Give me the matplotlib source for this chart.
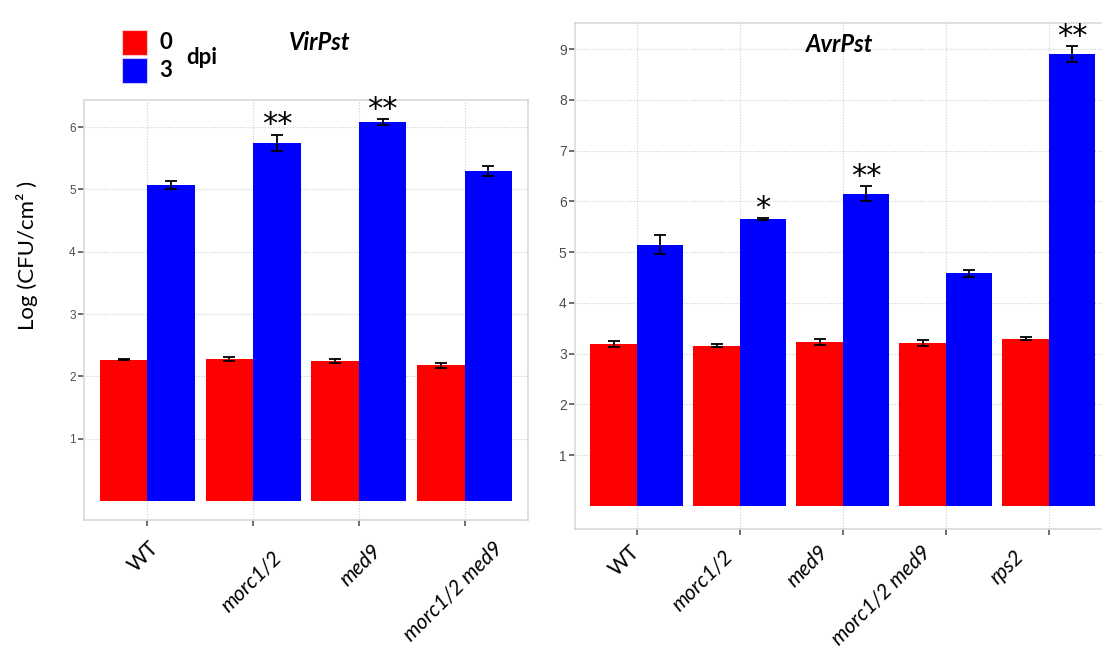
import matplotlib
matplotlib.use("Agg")
import matplotlib.pyplot as plt
from matplotlib.patches import Rectangle
import numpy as np

# VirPst panel
vir_strains = ["WT", "morc1/2", "med9", "morc1/2 med9"]
vir_d0 = [2.27, 2.28, 2.25, 2.18]
vir_d0_err = [0.01, 0.03, 0.03, 0.04]
vir_d3 = [5.07, 5.75, 6.08, 5.30]
vir_d3_err = [0.06, 0.13, 0.05, 0.08]
vir_stars = ["", "**", "**", ""]

# AvrPst panel
avr_strains = ["WT", "morc1/2", "med9", "morc1/2 med9", "rps2"]
avr_d0 = [3.19, 3.16, 3.23, 3.21, 3.29]
avr_d0_err = [0.05, 0.03, 0.05, 0.06, 0.03]
avr_d3 = [5.15, 5.65, 6.15, 4.58, 8.90]
avr_d3_err = [0.18, 0.02, 0.15, 0.07, 0.16]
avr_stars = ["", "*", "**", "", "**"]

RED = "#ff0000"
BLUE = "#0000ff"
W = 0.45
PX = 0.72  # points per pixel at dpi 100

# the strain labels were placed by hand in the original, offsets in px (right, down)
vir_lab_off = [(8, 24.5), (25.5, 34.5), (19, 27.5), (34.5, 24.5)]
avr_lab_off = [(0, 19.5), (-10, 24.5), (-18, 19.5), (-18, 19.5), (-28.5, 24.5)]

fig = plt.figure(figsize=(11.02, 6.55), dpi=100)


def panel(rect, strains, d0, e0, d3, e3, stars, ymax_ticks, tick_size, lab_off):
    ax = fig.add_axes(rect)
    x = np.arange(len(strains))
    ax.bar(x - W / 2, d0, W, color=RED, zorder=2)
    ax.bar(x + W / 2, d3, W, color=BLUE, zorder=2)
    ax.errorbar(x - W / 2, d0, yerr=e0, fmt="none", ecolor="black",
                elinewidth=1.3, capsize=4.5, capthick=1.3, zorder=3)
    ax.errorbar(x + W / 2, d3, yerr=e3, fmt="none", ecolor="black",
                elinewidth=1.3, capsize=4.5, capthick=1.3, zorder=3)
    for xi, v, e, s in zip(x, d3, e3, stars):
        if s:
            ax.annotate(s, (xi + W / 2, v + e), xytext=(0, 1),
                        textcoords="offset points", ha="center", va="baseline",
                        fontsize=22, family="DejaVu Sans",
                        annotation_clip=False)
    top = max(np.array(d3) + np.array(e3))
    ax.set_xlim(-0.6, len(strains) - 0.4)
    ax.set_ylim(-0.05 * top, 1.05 * top)
    ax.set_yticks(range(1, ymax_ticks + 1))
    ax.set_xticks(x)
    ax.set_xticklabels([""] * len(strains))
    for xi, name, (dx, dy) in zip(x, strains, lab_off):
        ax.annotate(name, (xi, 0), xycoords=("data", "axes fraction"),
                    xytext=(dx * PX, -dy * PX), textcoords="offset points",
                    rotation=45, rotation_mode="anchor", ha="right", va="center",
                    fontsize=15, family="Lato",
                    style="normal" if name == "WT" else "italic",
                    annotation_clip=False)
    for lab in ax.get_yticklabels():
        lab.set_family("Liberation Sans")
        lab.set_fontsize(tick_size)
        lab.set_color("#4d4d4d")
    ax.tick_params(axis="both", length=4, width=1.2, color="#555555")
    ax.tick_params(axis="y", pad=2)
    ax.grid(True, color="#d0d0d0", linestyle=(0, (1, 1.5)), linewidth=0.8, zorder=0)
    ax.set_axisbelow(True)
    for sp in ax.spines.values():
        sp.set_color("#d9d9d9")
        sp.set_linewidth(1.2)
    return ax


panel([84 / 1102, 1 - 520 / 655, 444 / 1102, 420 / 655],
      vir_strains, vir_d0, vir_d0_err, vir_d3, vir_d3_err, vir_stars, 6, 8.5,
      vir_lab_off)
panel([575 / 1102, 1 - 529 / 655, 535.6 / 1102, 506 / 655],
      avr_strains, avr_d0, avr_d0_err, avr_d3, avr_d3_err, avr_stars, 9, 10,
      avr_lab_off)

fig.text(320 / 1102, 1 - 42 / 655, "VirPst", ha="center", va="center",
         fontsize=17, family="Lato", weight="bold", style="italic")
fig.text(840 / 1102, 1 - 44 / 655, "AvrPst", ha="center", va="center",
         fontsize=17, family="Lato", weight="bold", style="italic")
fig.text(27 / 1102, 1 - 255 / 655, "Log (CFU/cm² )", rotation=90,
         ha="center", va="center", fontsize=16, family="Lato")

# legend
for y0, c, lab in [(30, RED, "0"), (58, BLUE, "3")]:
    fig.add_artist(Rectangle((122 / 1102, 1 - (y0 + 25) / 655), 25 / 1102, 25 / 655,
                             transform=fig.transFigure, facecolor=c,
                             edgecolor="#c8c8ff" if c == BLUE else "#ffc8c8", lw=0.8))
    fig.text(166 / 1102, 1 - (y0 + 12.5) / 655, lab, ha="center", va="center",
             fontsize=16, family="Lato", weight="bold")
fig.text(202 / 1102, 1 - 57 / 655, "dpi", ha="center", va="center",
         fontsize=16, family="Lato", weight="bold")

fig.savefig("out.png", dpi=100)
